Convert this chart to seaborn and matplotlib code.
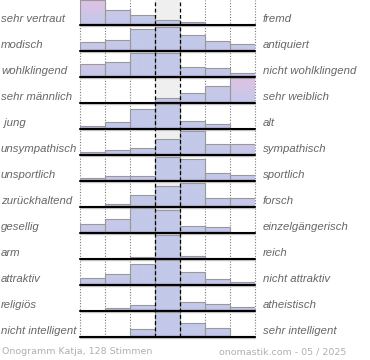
import numpy as np
import matplotlib
matplotlib.use("Agg")
import matplotlib.pyplot as plt
import matplotlib.colors as mcolors
import seaborn as sns

sns.set_theme(style="white")
plt.rcParams['font.family'] = ['Liberation Sans', 'DejaVu Sans']

left_labels = ["sehr vertraut", "modisch", "wohlklingend", "sehr männlich", " jung",
               "unsympathisch", "unsportlich", "zurückhaltend", "gesellig", "arm",
               "attraktiv", "religiös", "nicht intelligent"]
right_labels = ["fremd", "antiquiert", "nicht wohlklingend", "sehr weiblich", "alt",
                "sympathisch", "sportlich", "forsch", "einzelgängerisch", "reich",
                "nicht attraktiv", "atheistisch", "sehr intelligent"]
scale_steps = ["1", "2", "3", "4", "5", "6", "7"]

# relative bar heights per row (row maximum ~ 25)
r01 = [25, 14.7, 9.7, 4.7, 2.7, 0, 0]
r02 = [9.3, 11.3, 22.3, 24.5, 16.3, 10, 7.3]
r03 = [12.7, 15, 24, 24, 9.7, 8.7, 4.3]
r04 = [0, 0, 0, 5, 9.7, 17, 25]
r05 = [2.7, 6.7, 19.7, 24.7, 8, 5.3, 0]
r06 = [2.7, 5.3, 7, 16, 24.3, 11, 11]
r07 = [2.7, 5.3, 5.3, 23.7, 21.7, 7.7, 5.7]
r08 = [1, 3, 11.7, 21.3, 24, 9.3, 9.3]
r09 = [9, 14, 25, 22.7, 6.7, 5.7, 0]
r10 = [0, 1.3, 2.3, 24.3, 3, 1.3, 1.3]
r11 = [6.7, 11, 21, 24.7, 13, 6, 3]
r12 = [0, 3, 6.3, 25, 9, 7.3, 4]
r13 = [0.7, 0.7, 8.3, 25, 14.3, 9, 0.7]
rows = [r01, r02, r03, r04, r05, r06, r07, r08, r09, r10, r11, r12, r13]

footer_left = "Onogramm Katja, 128 Stimmen"
footer_right = "onomastik.com - 05 / 2025"

W, H = 370, 360
fig = plt.figure(figsize=(W / 100, H / 100), dpi=100)

x0_px, x1_px = 80, 255
row_h = 26
first_base = 25
n = len(rows)
last_base = first_base + row_h * (n - 1)

def fx(px):
    return px / W

def fy(py):
    return (H - py) / H

# background axes: grey centre column and dotted grid
ax_bg = fig.add_axes([fx(x0_px), fy(last_base), fx(x1_px - x0_px), (last_base) / H])
ax_bg.set_xlim(-0.5, 6.5)
ax_bg.set_ylim(0, 1)
ax_bg.axis("off")
ax_bg.axvspan(2.5, 3.5, color="#efefef", lw=0)
for xv in [-0.5, 0.5, 1.5, 4.5, 5.5, 6.5]:
    ax_bg.axvline(xv, color="#7a7a7a", lw=0.8, linestyle=(0, (1, 1.5)), clip_on=False)

blue = np.array(mcolors.to_rgb("#c3c9e9"))
pink = np.array(mcolors.to_rgb("#dfc2e4"))
strip = np.array(mcolors.to_rgb("#a090c8"))
col_pink = [1.0, 0.4, 0.0, 0.0, 0.0, 0.4, 1.0]
ymax = 26.0
ys = np.linspace(0, ymax, 104)

def column_gradient(ci):
    t = ys / ymax
    w = col_pink[ci] * np.clip((t - 0.05) / 0.9, 0, 1)
    cols = blue[None, :] * (1 - w[:, None]) + pink[None, :] * w[:, None]
    s = np.clip(1 - ys / 2.2, 0, 1)
    cols = cols * (1 - s[:, None]) + strip[None, :] * s[:, None]
    return cols[::-1][:, None, :]

for i, vals in enumerate(rows):
    base = first_base + row_h * i
    ax = fig.add_axes([fx(x0_px), fy(base), fx(x1_px - x0_px), row_h / H])
    ax.patch.set_alpha(0)
    sns.barplot(x=scale_steps, y=vals, ax=ax, width=1.0, color="#c3c9e9",
                edgecolor="#999999", linewidth=0.8, order=scale_steps)
    ax.set_xlim(-0.5, 6.5)
    ax.set_ylim(0, ymax)
    ax.axis("off")
    for ci, p in enumerate(ax.patches):
        p.set_facecolor("none")
        p.set_zorder(3)
        xl = p.get_x()
        im = ax.imshow(column_gradient(ci), extent=(xl, xl + p.get_width(), 0, ymax),
                       aspect="auto", interpolation="bilinear", zorder=2)
        im.set_clip_path(p)
    ax.axhline(-0.9, color="#c8c8c8", lw=1.0, clip_on=False, zorder=4)
    ax.axhline(0, color="black", lw=1.5, clip_on=False, zorder=5)

    fig.text(fx(1), fy(base - 6), left_labels[i], ha="left", va="center",
             fontsize=8.2, style="italic", color="#666666")
    fig.text(fx(263), fy(base - 6), right_labels[i], ha="left", va="center",
             fontsize=8.2, style="italic", color="#666666")

# foreground axes: dashed centre lines
ax_fg = fig.add_axes([fx(x0_px), fy(last_base), fx(x1_px - x0_px), last_base / H])
ax_fg.set_xlim(-0.5, 6.5)
ax_fg.set_ylim(0, 1)
ax_fg.axis("off")
ax_fg.patch.set_alpha(0)
for xv in [2.5, 3.5]:
    ax_fg.axvline(xv, color="black", lw=0.9, linestyle=(0, (3, 2)), clip_on=False)

fig.text(fx(2), fy(352), footer_left, ha="left", va="center", fontsize=6.8,
         color="#b0b0b0", family="DejaVu Sans")
fig.text(fx(346), fy(352), footer_right, ha="right", va="center", fontsize=6.8,
         color="#b0b0b0", family="DejaVu Sans")

fig.savefig("out.png", dpi=100)
